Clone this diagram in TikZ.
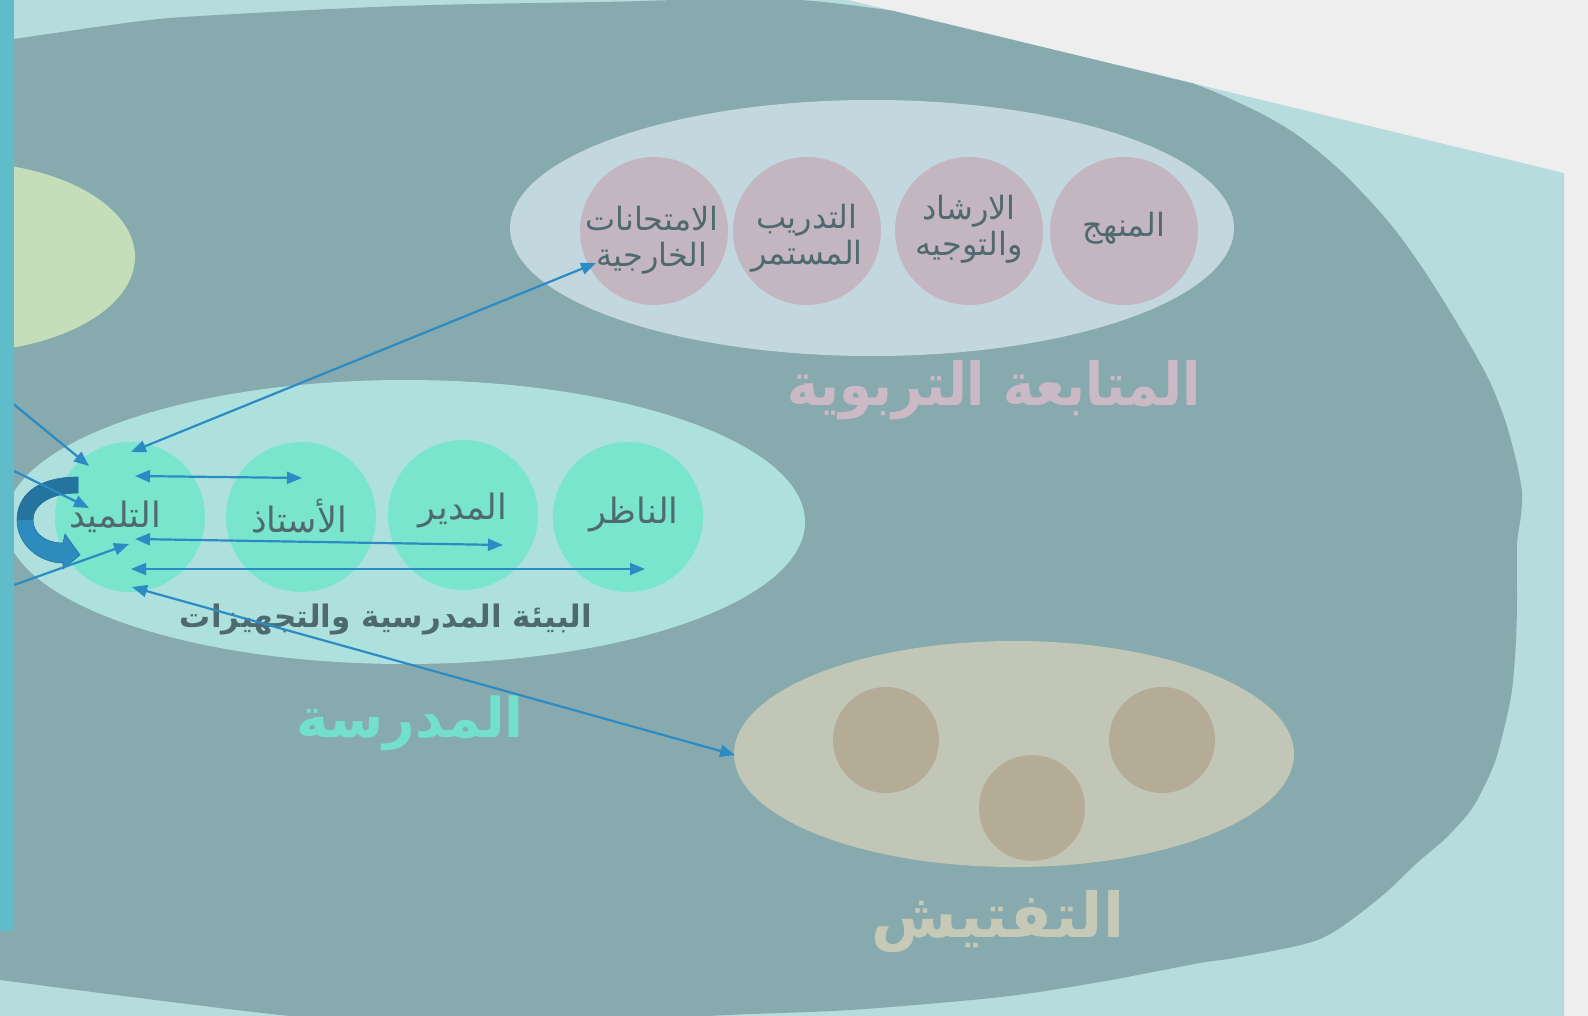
\documentclass[tikz,border=0pt]{standalone}
\usepackage{fontspec}
\newfontfamily\arabicfont[Script=Arabic]{DejaVu Sans}
\TeXXeTstate=1
\usetikzlibrary{arrows.meta}
\definecolor{bgc}{HTML}{EEEEEE}
\definecolor{tealc}{HTML}{B6DCDE}
\definecolor{barc}{HTML}{5FBCC8}
\definecolor{blobc}{HTML}{87AAAE}
\definecolor{lgreenc}{HTML}{C4DEB9}
\definecolor{pinkell}{HTML}{C3D8DE}
\definecolor{pinkcirc}{HTML}{C4B6C1}
\definecolor{pinklbl}{HTML}{CBBAC6}
\definecolor{schell}{HTML}{AEE1DE}
\definecolor{schcirc}{HTML}{7AE5CD}
\definecolor{schlbl}{HTML}{72E0CC}
\definecolor{txtc}{HTML}{4F6A6E}
\definecolor{insell}{HTML}{C2C6B6}
\definecolor{inscirc}{HTML}{B4AC96}
\definecolor{inslbl}{HTML}{C6C9B6}
\definecolor{arrc}{HTML}{2B8BC5}
\definecolor{ribbonc}{HTML}{2E8BBE}
\definecolor{ribbondk}{HTML}{25739F}
\newcommand{\artxt}[1]{{\arabicfont\beginR #1\endR}}
\tikzset{
  pcirc/.style={circle, fill=pinkcirc, minimum size=148pt, inner sep=0pt},
  gcirc/.style={circle, fill=schcirc, minimum size=150pt, inner sep=0pt},
  bcirc/.style={circle, fill=inscirc, minimum size=106pt, inner sep=0pt},
  ptext/.style={text=txtc, inner sep=0pt, align=center, font=\fontsize{32}{36}\selectfont},
  ctext/.style={text=txtc, inner sep=0pt, font=\fontsize{35}{40}\selectfont},
  biglbl/.style={inner sep=0pt},
  link/.style={draw=arrc, line width=2.2pt, {Triangle[length=15pt,width=12pt]}-{Triangle[length=15pt,width=12pt]}},
  inlink/.style={draw=arrc, line width=2.2pt, -{Triangle[length=15pt,width=12pt]}}
}
\begin{document}
\begin{tikzpicture}[x=1pt,y=-1pt]
\useasboundingbox (0,0) rectangle (1588,1016);
\clip (0,0) rectangle (1588,1016);
% backgrounds
\fill[bgc] (0,0) rectangle (1588,1016);
\fill[tealc] (0,0) -- (848,0) -- (1564,173) -- (1564,1016) -- (0,1016) -- cycle;
\begin{scope}
\clip (0,0) -- (848,0) -- (1564,173) -- (1564,1016) -- (0,1016) -- cycle;
\fill[blobc] (-5,980) -- (-5,41) -- plot[smooth, tension=0.5] coordinates {
 (14,39) (133,22) (200,16) (400,6) (600,2) (800,0) (1000,28) (1100,52) (1200,86) (1260,113) (1300,137) (1343,173)
 (1387,220) (1417,260) (1443,300) (1470,345) (1490,382) (1505,420) (1516,460) (1522,492) (1521,515)
 (1517,545) (1517,600) (1516,640) (1512,690) (1503,733) (1493,767) (1473,807) (1447,837)
 (1417,863) (1377,900) (1320,939) (1240,957) (1200,963) (1100,982) (1001,997) (850,1010)
 (708,1016) (500,1030) (290,1016) (0,980)} -- cycle;
\end{scope}
% left green ellipse
\fill[lgreenc] (-40,257) ellipse [x radius=175, y radius=95];
% pink group
\fill[pinkell] (872,228) ellipse [x radius=362, y radius=128];
\node[pcirc] (p1) at (654,231) {};
\node[pcirc] (p2) at (807,231) {};
\node[pcirc] (p3) at (969,231) {};
\node[pcirc] (p4) at (1124,231) {};
\node[ptext] (p1t) at (652,240) {\artxt{الامتحانات}\\\artxt{الخارجية}};
\node[ptext] (p2t) at (807,238) {\artxt{التدريب}\\\artxt{المستمر}};
\node[ptext] (p3t) at (969,229) {\artxt{الارشاد}\\\artxt{والتوجيه}};
\node[ptext] (p4t) at (1124,228) {\artxt{المنهج}};
\node[biglbl, text=pinklbl, font=\fontsize{53}{60}\selectfont\bfseries] (lblp) at (994,390) {\scalebox{1}[1.12]{\artxt{المتابعة التربوية}}};
% school group
\fill[schell] (405,522) ellipse [x radius=400, y radius=142];
\node[gcirc] (s1) at (130,517) {};
\node[gcirc] (s2) at (301,517) {};
\node[gcirc] (s3) at (463,515) {};
\node[gcirc] (s4) at (628,517) {};
\node[ctext] (s1t) at (115,517) {\artxt{التلميد}};
\node[ctext] (s2t) at (299,516) {\artxt{الأستاذ}};
\node[ctext] (s3t) at (463,510) {\artxt{المدير}};
\node[ctext] (s4t) at (634,514) {\artxt{الناظر}};
\node[inner sep=0pt, text=txtc, font=\fontsize{31}{36}\selectfont\bfseries] (env) at (386,620) {\artxt{البيئة المدرسية والتجهيزات}};
\node[biglbl, text=schlbl, font=\fontsize{55}{60}\selectfont\bfseries] (lbls) at (410,723) {\artxt{المدرسة}};
% inspection group
\fill[insell] (1014,754) ellipse [x radius=280, y radius=113];
\node[bcirc] (i1) at (886,740) {};
\node[bcirc] (i2) at (1162,740) {};
\node[bcirc] (i3) at (1032,808) {};
\node[biglbl, text=inslbl, font=\fontsize{62}{68}\selectfont\bfseries] (lbli) at (998,922) {\artxt{التفتيش}};
% arrow endpoints
\coordinate (a1s) at (131,452);
\coordinate (a1e) at (596,263);
\coordinate (a2s) at (135,476);
\coordinate (a2e) at (302,478);
\coordinate (a3s) at (135,539);
\coordinate (a3e) at (503,545);
\coordinate (a4s) at (131,569);
\coordinate (a4e) at (645,569);
\coordinate (a5s) at (132,587);
\coordinate (a5e) at (735,755);
\coordinate (b1s) at (0,393);
\coordinate (b1e) at (89,466);
\coordinate (b2s) at (0,464);
\coordinate (b2e) at (89,508);
\coordinate (b3s) at (0,590);
\coordinate (b3e) at (129,544);
\draw[link] (a1s) -- (a1e);
\draw[link] (a2s) -- (a2e);
\draw[link] (a3s) -- (a3e);
\draw[link] (a4s) -- (a4e);
\draw[link] (a5s) -- (a5e);
% curved ribbon arrow
\fill[ribbonc, draw=ribbondk, line width=0.6pt] (78,477) .. controls (35,477) and (17,497) .. (17,520) .. controls (17,545) and (40,563) .. (63,563) -- (63,569) -- (80,555) -- (65,534) -- (63,543) .. controls (45,543) and (33,533) .. (33,520) .. controls (33,505) and (50,493) .. (78,493) -- cycle;
\fill[ribbondk] (78,477) .. controls (35,477) and (17,497) .. (17,520) -- (33,520) .. controls (33,505) and (50,493) .. (78,493) -- cycle;
\draw[inlink] (b1s) -- (b1e);
\draw[inlink] (b2s) -- (b2e);
\draw[inlink] (b3s) -- (b3e);
% left bar
\fill[barc] (0,0) rectangle (14,931);
\end{tikzpicture}
\end{document}
